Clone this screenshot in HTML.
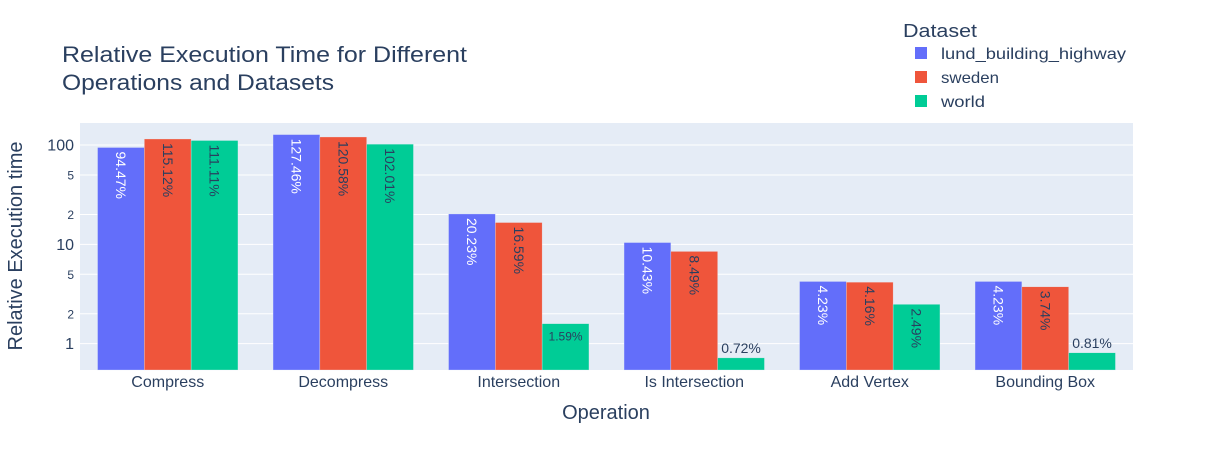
<!DOCTYPE html>
<html><head><meta charset="utf-8"><style>
body{margin:0;background:#fff;}
svg text{font-family:"Liberation Sans",Arial,sans-serif;fill:#2a3f5f;}
</style></head><body>
<svg id="chart" width="1212" height="450" xmlns="http://www.w3.org/2000/svg">
<rect x="80" y="123" width="1053" height="247" fill="#e5ecf6"/>
<g id="grid"></g><g id="bars"></g><g id="labels"></g><g id="ticks"></g>
<text x="62" y="62" font-size="22" textLength="405" lengthAdjust="spacingAndGlyphs">Relative Execution Time for Different</text>
<text x="62" y="90" font-size="22" textLength="272" lengthAdjust="spacingAndGlyphs">Operations and Datasets</text>
<text x="606" y="419" font-size="20" text-anchor="middle">Operation</text>
<text transform="translate(22,246) rotate(-90)" font-size="20" text-anchor="middle">Relative Execution time</text>
<g id="legend">
<text x="903" y="37" font-size="18" textLength="74" lengthAdjust="spacingAndGlyphs">Dataset</text>
</g>
</svg>
<script>
const categories=["Compress","Decompress","Intersection","Is Intersection","Add Vertex","Bounding Box"];
const seriesNames=["lund_building_highway","sweden","world"];
const lundValues=[94.47,127.46,20.23,10.43,4.23,4.23];
const swedenValues=[115.12,120.58,16.59,8.49,4.16,3.74];
const worldValues=[111.11,102.01,1.59,0.72,2.49,0.81];
const majorTicks=[1,10,100];
const minorTicks=[2,5,20,50];
const colors=["#636efa","#ef553b","#00cc96"];
const textColors=["#ffffff","#2a3f5f","#2a3f5f"];
const legendWidths=[185,58,44];
const NS="http://www.w3.org/2000/svg";
const X0=80,X1=1133,Y0=123,Y1=370;
const LMIN=-0.265,LMAX=2.222;
function y(v){return Y1-(Math.log10(v)-LMIN)/(LMAX-LMIN)*(Y1-Y0);}
const step=(X1-X0)/categories.length;
function xc(i){return X0+step*(i+0.5);}
function mk(tag,attrs,parent,txt){const e=document.createElementNS(NS,tag);for(const k in attrs)e.setAttribute(k,attrs[k]);if(txt!=null)e.textContent=txt;document.getElementById(parent).appendChild(e);return e;}
const grid=majorTicks.concat(minorTicks);
grid.forEach(t=>{
 const gl=mk("line",{x1:X0,x2:X1,y1:y(t),y2:y(t),stroke:"#fff","stroke-width":1},"grid");
 
 
});
majorTicks.forEach(t=>{
 const tl=mk("text",{x:X0-6,y:y(t)+5.5,"font-size":16,"text-anchor":"end"},"ticks",String(t));
 
 
});
minorTicks.forEach(t=>{
 const tl=mk("text",{x:X0-6,y:y(t)+4.5,"font-size":12,"text-anchor":"end"},"ticks",String(t).charAt(0));
 
 
});
categories.forEach((c,i)=>{
 const tl=mk("text",{x:xc(i),y:387,"font-size":16,"text-anchor":"middle"},"ticks",c);
 
 
});
const all=[lundValues,swedenValues,worldValues];
const gw=step*0.8,bw=gw/3;
all.forEach((vals,s)=>{
 vals.forEach((v,i)=>{
  const x=xc(i)-gw/2+s*bw, top=y(v);
  const r=mk("rect",{x:x,y:top,width:bw,height:Y1-top,fill:colors[s],stroke:"rgba(229,236,246,0.6)","stroke-width":0.5},"bars");
  
  
  const lab=v.toFixed(2)+"%";
  const h=Y1-top;
  let t;
  if(h>60){
   t=mk("text",{transform:"translate("+(x+bw/2-5)+","+(top+4)+") rotate(90)","font-size":14,fill:textColors[s]},"labels",lab);
   t.style.fill=textColors[s];
  } else if(h>25){
   t=mk("text",{x:x+bw/2,y:top+17,"font-size":12,"text-anchor":"middle"},"labels",lab);
   t.style.fill=textColors[s];
  } else {
   t=mk("text",{x:x+bw/2,y:top-5,"font-size":14,"text-anchor":"middle"},"labels",lab);
  }
  
  
 });
});
seriesNames.forEach((n,s)=>{
 const yy=53+s*24;
 const sw=mk("rect",{x:915,y:yy-6,width:12,height:12,fill:colors[s]},"legend");
 
 
 const t=mk("text",{x:941,y:yy+6,"font-size":16,textLength:legendWidths[s],lengthAdjust:"spacingAndGlyphs"},"legend",n);
 
 
});
</script>
</body></html>
